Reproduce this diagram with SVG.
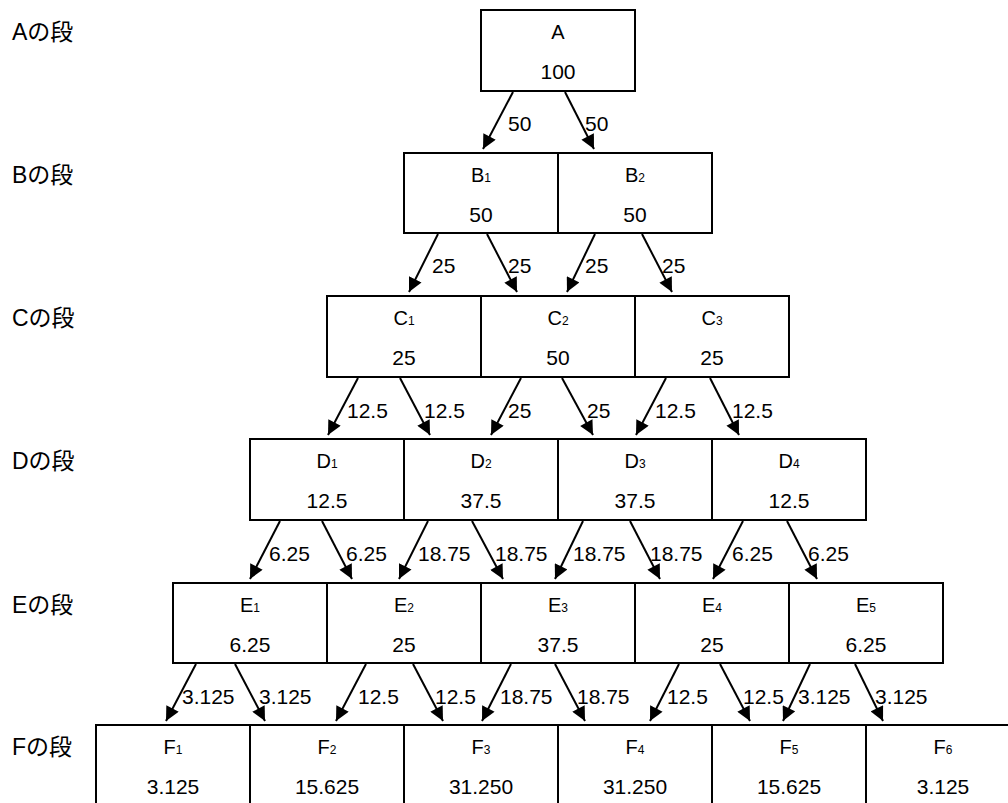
<svg xmlns="http://www.w3.org/2000/svg" width="1008" height="803" viewBox="0 0 1008 803">
<style>
.bx{fill:#fff;stroke:#000;stroke-width:2}
.t{font-family:"Liberation Sans","Noto Sans CJK JP",sans-serif;font-size:20px;fill:#000;text-anchor:middle}
.v{font-family:"Liberation Sans","Noto Sans CJK JP",sans-serif;font-size:21px;fill:#000;text-anchor:middle}
.s{font-size:12px}
.e{font-family:"Liberation Sans",sans-serif;font-size:21px;fill:#000}
.r{font-family:"Liberation Sans","Noto Sans CJK JP",sans-serif;font-size:23px;fill:#000}
.ar{stroke:#000;stroke-width:2;fill:none;marker-end:url(#ah)}
</style>
<defs>
<marker id="ah" markerUnits="userSpaceOnUse" viewBox="0 0 10 10" refX="10" refY="5" markerWidth="15" markerHeight="14" orient="auto">
<path d="M0,0 L10,5 L0,10 z" fill="#000"/>
</marker>
</defs>
<rect width="1008" height="803" fill="#fff"/>
<g id="row-labels">
<text class="r" x="12" y="40">Aの段</text>
<text class="r" x="12" y="183">Bの段</text>
<text class="r" x="12" y="326">Cの段</text>
<text class="r" x="12" y="469">Dの段</text>
<text class="r" x="12" y="613">Eの段</text>
<text class="r" x="12" y="755">Fの段</text>
</g>
<g id="A"><rect class="bx" x="481" y="10" width="154" height="81"/><text class="t" x="558" y="39">A</text><text class="v" x="558" y="79">100</text></g>
<g id="B1"><rect class="bx" x="404" y="153" width="154" height="80"/><text class="t" x="481" y="182">B<tspan class="s">1</tspan></text><text class="v" x="481" y="222">50</text></g>
<g id="B2"><rect class="bx" x="558" y="153" width="154" height="80"/><text class="t" x="635" y="182">B<tspan class="s">2</tspan></text><text class="v" x="635" y="222">50</text></g>
<g id="C1"><rect class="bx" x="327" y="296" width="154" height="81"/><text class="t" x="404" y="325">C<tspan class="s">1</tspan></text><text class="v" x="404" y="365">25</text></g>
<g id="C2"><rect class="bx" x="481" y="296" width="154" height="81"/><text class="t" x="558" y="325">C<tspan class="s">2</tspan></text><text class="v" x="558" y="365">50</text></g>
<g id="C3"><rect class="bx" x="635" y="296" width="154" height="81"/><text class="t" x="712" y="325">C<tspan class="s">3</tspan></text><text class="v" x="712" y="365">25</text></g>
<g id="D1"><rect class="bx" x="250" y="439" width="154" height="81"/><text class="t" x="327" y="468">D<tspan class="s">1</tspan></text><text class="v" x="327" y="508">12.5</text></g>
<g id="D2"><rect class="bx" x="404" y="439" width="154" height="81"/><text class="t" x="481" y="468">D<tspan class="s">2</tspan></text><text class="v" x="481" y="508">37.5</text></g>
<g id="D3"><rect class="bx" x="558" y="439" width="154" height="81"/><text class="t" x="635" y="468">D<tspan class="s">3</tspan></text><text class="v" x="635" y="508">37.5</text></g>
<g id="D4"><rect class="bx" x="712" y="439" width="154" height="81"/><text class="t" x="789" y="468">D<tspan class="s">4</tspan></text><text class="v" x="789" y="508">12.5</text></g>
<g id="E1"><rect class="bx" x="173" y="583" width="154" height="80"/><text class="t" x="250" y="612">E<tspan class="s">1</tspan></text><text class="v" x="250" y="652">6.25</text></g>
<g id="E2"><rect class="bx" x="327" y="583" width="154" height="80"/><text class="t" x="404" y="612">E<tspan class="s">2</tspan></text><text class="v" x="404" y="652">25</text></g>
<g id="E3"><rect class="bx" x="481" y="583" width="154" height="80"/><text class="t" x="558" y="612">E<tspan class="s">3</tspan></text><text class="v" x="558" y="652">37.5</text></g>
<g id="E4"><rect class="bx" x="635" y="583" width="154" height="80"/><text class="t" x="712" y="612">E<tspan class="s">4</tspan></text><text class="v" x="712" y="652">25</text></g>
<g id="E5"><rect class="bx" x="789" y="583" width="154" height="80"/><text class="t" x="866" y="612">E<tspan class="s">5</tspan></text><text class="v" x="866" y="652">6.25</text></g>
<g id="F1"><rect class="bx" x="96" y="725" width="154" height="100"/><text class="t" x="173" y="754">F<tspan class="s">1</tspan></text><text class="v" x="173" y="794">3.125</text></g>
<g id="F2"><rect class="bx" x="250" y="725" width="154" height="100"/><text class="t" x="327" y="754">F<tspan class="s">2</tspan></text><text class="v" x="327" y="794">15.625</text></g>
<g id="F3"><rect class="bx" x="404" y="725" width="154" height="100"/><text class="t" x="481" y="754">F<tspan class="s">3</tspan></text><text class="v" x="481" y="794">31.250</text></g>
<g id="F4"><rect class="bx" x="558" y="725" width="154" height="100"/><text class="t" x="635" y="754">F<tspan class="s">4</tspan></text><text class="v" x="635" y="794">31.250</text></g>
<g id="F5"><rect class="bx" x="712" y="725" width="154" height="100"/><text class="t" x="789" y="754">F<tspan class="s">5</tspan></text><text class="v" x="789" y="794">15.625</text></g>
<g id="F6"><rect class="bx" x="866" y="725" width="154" height="100"/><text class="t" x="943" y="754">F<tspan class="s">6</tspan></text><text class="v" x="943" y="794">3.125</text></g>
<g id="connectors">
<line class="ar" x1="513" y1="92" x2="483" y2="149"/>
<line class="ar" x1="565" y1="92" x2="594" y2="149"/>
<line class="ar" x1="438" y1="234" x2="409" y2="292"/>
<line class="ar" x1="487" y1="234" x2="517" y2="292"/>
<line class="ar" x1="595" y1="234" x2="567" y2="292"/>
<line class="ar" x1="642" y1="234" x2="672" y2="292"/>
<line class="ar" x1="358" y1="378" x2="328" y2="435"/>
<line class="ar" x1="400" y1="378" x2="430" y2="435"/>
<line class="ar" x1="521" y1="378" x2="491" y2="435"/>
<line class="ar" x1="562" y1="378" x2="593" y2="435"/>
<line class="ar" x1="666" y1="378" x2="636" y2="435"/>
<line class="ar" x1="710" y1="378" x2="739" y2="435"/>
<line class="ar" x1="280" y1="521" x2="250" y2="579"/>
<line class="ar" x1="322" y1="521" x2="352" y2="579"/>
<line class="ar" x1="428" y1="521" x2="399" y2="579"/>
<line class="ar" x1="472" y1="521" x2="503" y2="579"/>
<line class="ar" x1="583" y1="521" x2="555" y2="579"/>
<line class="ar" x1="630" y1="521" x2="660" y2="579"/>
<line class="ar" x1="743" y1="521" x2="713" y2="579"/>
<line class="ar" x1="787" y1="521" x2="817" y2="579"/>
<line class="ar" x1="196" y1="664" x2="166" y2="721"/>
<line class="ar" x1="235" y1="664" x2="265" y2="721"/>
<line class="ar" x1="366" y1="664" x2="336" y2="721"/>
<line class="ar" x1="413" y1="664" x2="443" y2="721"/>
<line class="ar" x1="511" y1="664" x2="482" y2="721"/>
<line class="ar" x1="555" y1="664" x2="585" y2="721"/>
<line class="ar" x1="679" y1="664" x2="650" y2="721"/>
<line class="ar" x1="720" y1="664" x2="750" y2="721"/>
<line class="ar" x1="810" y1="664" x2="783" y2="721"/>
<line class="ar" x1="855" y1="664" x2="883" y2="721"/>
</g>
<g id="edge-labels">
<text class="e" x="508" y="131">50</text>
<text class="e" x="585" y="131">50</text>
<text class="e" x="432" y="273">25</text>
<text class="e" x="508" y="273">25</text>
<text class="e" x="585" y="273">25</text>
<text class="e" x="662" y="273">25</text>
<text class="e" x="347" y="418">12.5</text>
<text class="e" x="424" y="418">12.5</text>
<text class="e" x="508" y="418">25</text>
<text class="e" x="587" y="418">25</text>
<text class="e" x="655" y="418">12.5</text>
<text class="e" x="732" y="418">12.5</text>
<text class="e" x="269" y="561">6.25</text>
<text class="e" x="346" y="561">6.25</text>
<text class="e" x="418" y="561">18.75</text>
<text class="e" x="495" y="561">18.75</text>
<text class="e" x="573" y="561">18.75</text>
<text class="e" x="650" y="561">18.75</text>
<text class="e" x="732" y="561">6.25</text>
<text class="e" x="808" y="561">6.25</text>
<text class="e" x="182" y="704">3.125</text>
<text class="e" x="259" y="704">3.125</text>
<text class="e" x="358" y="704">12.5</text>
<text class="e" x="435" y="704">12.5</text>
<text class="e" x="500" y="704">18.75</text>
<text class="e" x="577" y="704">18.75</text>
<text class="e" x="667" y="704">12.5</text>
<text class="e" x="743" y="704">12.5</text>
<text class="e" x="798" y="704">3.125</text>
<text class="e" x="875" y="704">3.125</text>
</g>
</svg>
